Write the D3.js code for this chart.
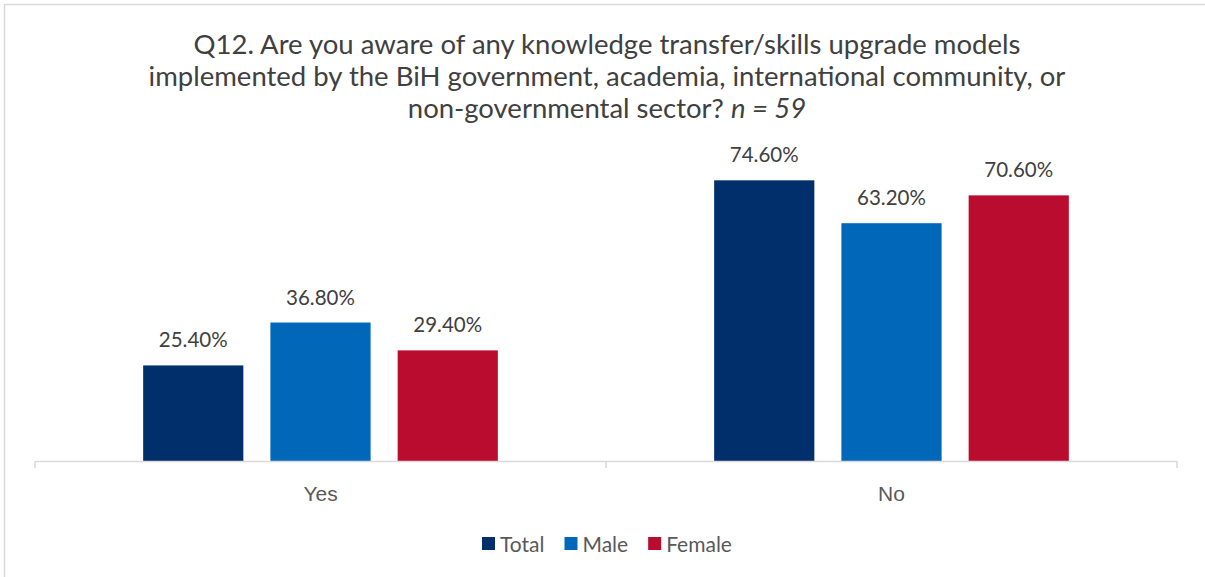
<!DOCTYPE html>
<html>
<head>
<meta charset="utf-8">
<script src="https://cdn.jsdelivr.net/npm/d3@7"></script>
<style>
  html, body { margin: 0; padding: 0; background: #fff; }
  svg { display: block; font-family: "Gill Sans", "Gill Sans MT", Lato, "Open Sans", sans-serif; }
</style>
</head>
<body>
<svg id="chart" width="1205" height="577"></svg>
<script>
// Survey answers by respondent group (percent)
const categories = ["Yes", "No"];
const seriesNames = ["Total", "Male", "Female"];
const totalValues = [25.4, 74.6];
const maleValues = [36.8, 63.2];
const femaleValues = [29.4, 70.6];
const seriesColors = ["#002F6C", "#0067B9", "#BA0C2F"];
const titleLines = [
  "Q12. Are you aware of any knowledge transfer/skills upgrade models",
  "implemented by the BiH government, academia, international community, or",
  "non-governmental sector?"
];

const seriesValues = [totalValues, maleValues, femaleValues];

const svg = d3.select("#chart");

// outer frame of the chart area
svg.append("rect")
  .attr("x", 4.5).attr("y", 4.5)
  .attr("width", 1210).attr("height", 590)
  .attr("fill", "#fff")
  .attr("stroke", "#d9d9d9").attr("stroke-width", 1.5);

const plot = { left: 35, right: 1177, top: 160, bottom: 461 };

const x0 = d3.scaleBand()
  .domain(categories)
  .range([plot.left, plot.right]);

const x1 = d3.scaleBand()
  .domain(seriesNames)
  .range([0, x0.bandwidth()])
  .paddingInner(0.2126)
  .paddingOuter(0.85);

const y = d3.scaleLinear()
  .domain([0, 80])
  .range([plot.bottom, plot.top]);

const color = d3.scaleOrdinal().domain(seriesNames).range(seriesColors);

// title
const title = svg.append("text")
  .attr("text-anchor", "middle")
  .attr("fill", "#404040")
  .attr("font-size", 27.5);
titleLines.forEach((line, i) => {
  title.append("tspan")
    .attr("x", 607)
    .attr("y", 54 + i * 32)
    .text(line);
  if (i === titleLines.length - 1) {
    title.append("tspan").text(" ");
    title.append("tspan").attr("font-style", "italic").text("n = 59");
  }
});

// bars
const rows = categories.map((c, i) => ({
  category: c,
  items: seriesNames.map((s, j) => ({ series: s, value: seriesValues[j][i] }))
}));

const groups = svg.selectAll("g.group")
  .data(rows)
  .join("g")
  .attr("class", "group")
  .attr("transform", d => `translate(${x0(d.category)},0)`);

groups.selectAll("rect")
  .data(d => d.items)
  .join("rect")
  .attr("x", d => x1(d.series))
  .attr("width", x1.bandwidth())
  .attr("y", d => y(d.value))
  .attr("height", d => y(0) - y(d.value))
  .attr("fill", d => color(d.series));

groups.selectAll("text.value")
  .data(d => d.items)
  .join("text")
  .attr("class", "value")
  .attr("x", d => x1(d.series) + x1.bandwidth() / 2)
  .attr("y", d => y(d.value) - 18)
  .attr("text-anchor", "middle")
  .attr("fill", "#404040")
  .attr("font-size", 20.5)
  .text(d => d.value.toFixed(2) + "%");

// category axis
const axis = svg.append("g")
  .attr("transform", `translate(0,${plot.bottom})`)
  .call(d3.axisBottom(x0).tickSize(0).tickPadding(25));
axis.select(".domain").remove();
axis.selectAll("text")
  .attr("font-size", 21)
  .attr("fill", "#595959")
  .attr("font-family", null);

const axisLine = svg.append("g").attr("stroke", "#d9d9d9").attr("stroke-width", 1.5).attr("fill", "none");
axisLine.append("line")
  .attr("x1", plot.left).attr("x2", plot.right)
  .attr("y1", plot.bottom + 0.5).attr("y2", plot.bottom + 0.5);
const boundaries = [plot.left, ...categories.slice(1).map(c => x0(c)), plot.right];
axisLine.selectAll("line.tick")
  .data(boundaries)
  .join("line")
  .attr("class", "tick")
  .attr("x1", d => d).attr("x2", d => d)
  .attr("y1", plot.bottom).attr("y2", plot.bottom + 7);

// legend
const legend = svg.append("g").attr("transform", "translate(482,552)");
let lx = 0;
seriesNames.forEach((s) => {
  const g = legend.append("g").attr("transform", `translate(${lx},0)`);
  g.append("rect")
    .attr("x", 0).attr("y", -15)
    .attr("width", 13).attr("height", 13)
    .attr("fill", color(s));
  const t = g.append("text")
    .attr("x", 18).attr("y", 0)
    .attr("font-size", 21)
    .attr("fill", "#595959")
    .text(s);
  lx += 18 + t.node().getComputedTextLength() + 20;
});
</script>
</body>
</html>
